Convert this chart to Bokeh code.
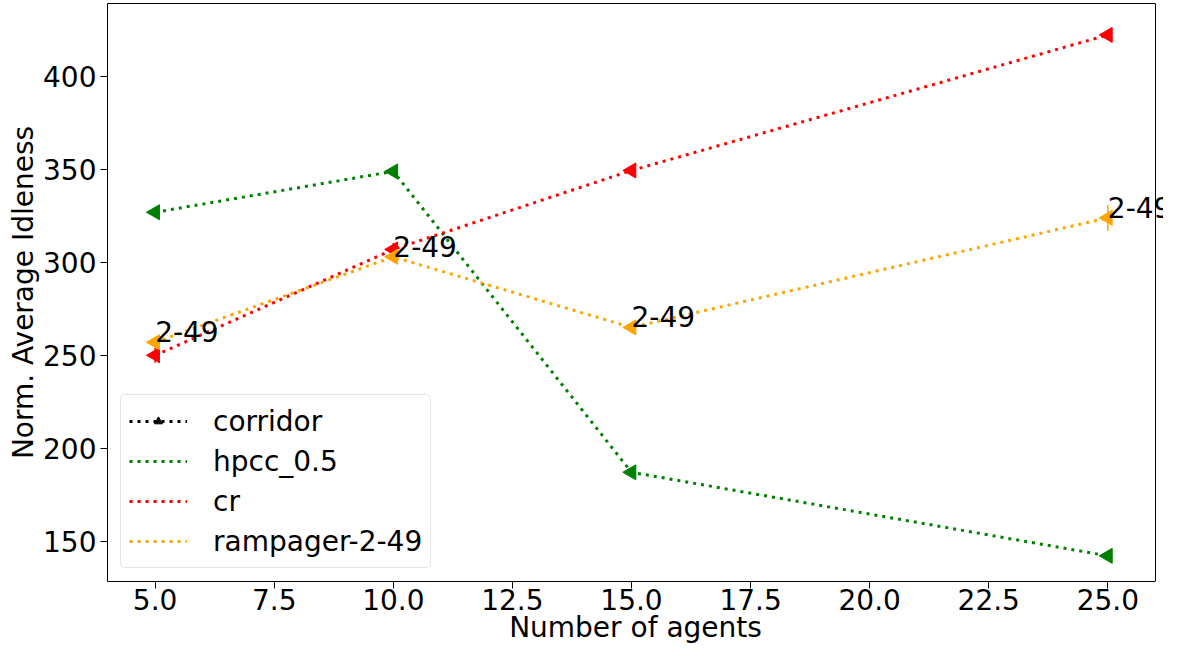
import numpy as np
from bokeh.plotting import figure
from bokeh.models import (ColumnDataSource, FixedTicker, PrintfTickFormatter, Legend, LegendItem,
                          LabelSet, Range1d, LinearAxis, Span)
from bokeh.core.properties import value
from bokeh.embed import file_html
from bokeh.resources import INLINE

# ---- data ----
agents = [5, 10, 15, 25]
corridor_vals = [float("nan")] * 4
hpcc_vals = [327.0, 349.0, 187.0, 142.0]
hpcc_err = [1.0, 1.0, 1.0, 1.0]
cr_vals = [250.0, 307.0, 349.5, 422.5]
cr_err = [4.0, 3.5, 1.0, 1.0]
ramp_vals = [257.0, 303.0, 265.0, 324.0]
ramp_err = [3.0, 2.0, 1.0, 7.0]
ramp_labels = ["2-49", "2-49", "2-49", "2-49"]
x_ticks = [5.0, 7.5, 10.0, 12.5, 15.0, 17.5, 20.0, 22.5, 25.0]
y_ticks = [150, 200, 250, 300, 350, 400]

# axis limits
XMIN, XMAX = 4.0, 26.0
YMIN, YMAX = 128.2, 439.4

FONT = "DejaVu Sans"
FS = "28px"

W, H = 1163, 646
LEFT, TOP = 107, 3
# frame extends to the canvas edge so the annotation at the last point can overflow the right spine
frame_w = W - LEFT
px_per_unit = (1155 - 107) / (XMAX - XMIN)
x_end = XMIN + frame_w / px_per_unit

p = figure(width=W, height=H, output_backend="svg", toolbar_location=None,
           x_range=Range1d(XMIN, x_end), y_range=Range1d(YMIN, YMAX),
           min_border_left=LEFT, min_border_right=0, min_border_top=TOP, min_border_bottom=50)

p.xgrid.visible = False
p.ygrid.visible = False
p.outline_line_color = None

for ax in (p.xaxis[0], p.yaxis[0]):
    ax.axis_line_color = "black"
    ax.major_tick_line_color = "black"
    ax.major_tick_out = 7
    ax.major_tick_in = 0
    ax.minor_tick_line_color = None
    ax.major_label_text_font = FONT
    ax.major_label_text_font_size = FS
    ax.major_label_text_color = "black"
    ax.axis_label_text_font = FONT
    ax.axis_label_text_font_size = FS
    ax.axis_label_text_font_style = "normal"
    ax.axis_label_text_color = "black"

p.xaxis.bounds = (XMIN, XMAX)
p.xaxis.ticker = FixedTicker(ticks=x_ticks)
p.xaxis.formatter = PrintfTickFormatter(format="%.1f")
p.yaxis.ticker = FixedTicker(ticks=y_ticks)
p.xaxis.axis_label = "Number of agents"
p.yaxis.axis_label = "Norm. Average Idleness"
p.xaxis.major_label_standoff = 0
p.yaxis.major_label_standoff = 4
p.xaxis.axis_label_standoff = -2
p.yaxis.axis_label_standoff = 0

# top spine and right spine
top_ax = LinearAxis(bounds=(XMIN, XMAX), ticker=FixedTicker(ticks=[]),
                    axis_line_color="black", major_tick_line_color=None,
                    minor_tick_line_color=None, major_label_text_font_size="0px")
p.add_layout(top_ax, "above")
p.add_layout(Span(location=XMAX, dimension="height", line_color="black", line_width=1))

DASH = "3 5"
LW = 3
MS = 15
ANG = np.pi / 2

def series(vals, err, color):
    src = ColumnDataSource(dict(x=agents, y=vals,
                                lo=[v - e for v, e in zip(vals, err)],
                                hi=[v + e for v, e in zip(vals, err)]))
    ln = p.line("x", "y", source=src, line_color=color, line_width=LW, line_dash=DASH)
    p.segment(x0="x", y0="lo", x1="x", y1="hi", source=src, line_color=color, line_width=1.5)
    p.scatter("x", "y", source=src, marker="triangle", size=MS, angle=ANG,
              fill_color=color, line_color=color)
    return ln

# corridor: no visible data, legend only
csrc = ColumnDataSource(dict(x=agents, y=corridor_vals))
cor_line = p.line("x", "y", source=csrc, line_color="black", line_width=LW, line_dash=DASH)
cor_mark = p.scatter("x", "y", source=csrc, marker="triangle", size=8, angle=ANG,
                     fill_color="black", line_color="black")

hp = series(hpcc_vals, hpcc_err, "green")
cr = series(cr_vals, cr_err, "red")
rp = series(ramp_vals, ramp_err, "orange")

lab_src = ColumnDataSource(dict(x=agents, y=ramp_vals, t=ramp_labels))
labels = LabelSet(x="x", y="y", text="t", source=lab_src, text_font=value(FONT),
                  text_font_size=value(FS), text_color="black", text_align="left",
                  text_baseline="alphabetic")
p.add_layout(labels)

legend = Legend(items=[
    LegendItem(label="corridor", renderers=[cor_line, cor_mark]),
    LegendItem(label="hpcc_0.5", renderers=[hp]),
    LegendItem(label="cr", renderers=[cr]),
    LegendItem(label="rampager-2-49", renderers=[rp]),
], location="bottom_left")
legend.label_text_font = FONT
legend.label_text_font_size = FS
legend.label_text_color = "black"
legend.glyph_width = 58
legend.glyph_height = 20
legend.label_height = 36
legend.spacing = 4
legend.padding = 8
legend.margin = 13
legend.label_standoff = 26
legend.border_line_color = "#cccccc"
legend.border_line_width = 1
legend.border_radius = 5
legend.background_fill_alpha = 0.8
p.add_layout(legend)

open("out.html", "w").write(file_html(p, INLINE))
